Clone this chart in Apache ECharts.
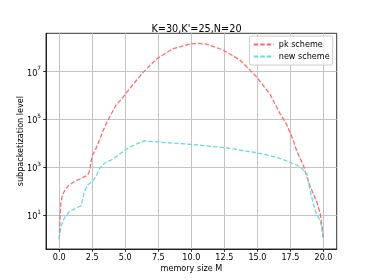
<!DOCTYPE html>
<html>
<head>
<meta charset="utf-8">
<script src="https://cdn.jsdelivr.net/npm/echarts@6/dist/echarts.min.js"></script>
<style>html,body{margin:0;padding:0;background:#fff}#c{width:374px;height:280px}</style>
</head>
<body>
<div id="c"></div>
<script>
const titleText = "K=30,K'=25,N=20";
const xTicks = [0, 2.5, 5, 7.5, 10, 12.5, 15, 17.5, 20];
const yTicks = [10, 1e3, 1e5, 1e7];
const yTickExponents = ['1', '3', '5', '7'];

const pkM = [0, 0.05, 0.13, 0.25, 0.5, 0.76, 1.14, 1.52, 2.03, 2.23, 2.33, 2.4, 2.53, 2.79, 3.04, 3.3, 3.67, 3.92, 4.3, 4.56, 4.94, 5.57, 6.33, 7.34, 8.6, 9.87, 10.5, 11.14, 12.4, 13.67, 14.94, 15.95, 16.7, 17.2, 17.7, 18.0, 18.5, 18.74, 19.0, 19.5, 19.75, 19.9, 20];
const pkValues = [1, 6.3, 32, 71, 132, 182, 251, 316, 437, 562, 912, 1700, 3240, 6300, 13500, 31600, 89000, 158000, 398000, 562000, 1.0e6, 2.8e6, 8.9e6, 3.2e7, 8.9e7, 1.38e8, 1.48e8, 1.38e8, 7.9e7, 3.0e7, 5.9e6, 1.12e6, 178000, 63000, 13800, 4470, 1120, 398, 158, 35, 12, 3.2, 1];

const newM = [0, 0.13, 0.38, 0.76, 1.14, 1.65, 1.77, 1.9, 2.15, 2.48, 2.79, 3.04, 3.42, 3.92, 4.3, 4.81, 5.32, 6.08, 6.46, 7.85, 10.38, 12.9, 14.94, 16.46, 17.47, 18.23, 18.74, 19.0, 19.24, 19.37, 19.5, 19.75, 20];
const newValues = [1, 3.4, 7.6, 14, 18, 25, 44, 95, 182, 251, 407, 890, 1480, 2000, 2750, 4470, 6900, 10700, 12600, 11000, 8700, 6200, 4070, 2630, 1620, 1070, 525, 100, 28, 16.6, 10, 6.3, 1];

const seriesNames = ['pk scheme', 'new scheme'];

const font = 'DejaVu Sans';
const chart = echarts.init(document.getElementById('c'), null, {renderer: 'canvas'});
chart.setOption({
  animation: false,
  backgroundColor: '#fff',
  title: {
    text: titleText, left: 191.5, top: 19, textAlign: 'center',
    textStyle: {fontFamily: font, fontSize: 9.7, fontWeight: 'normal', color: '#000'}
  },
  legend: {
    data: seriesNames, orient: 'vertical', right: 41.3, top: 36,
    padding: [4, 3, 4, 3.3], itemGap: 3, itemWidth: 20, itemHeight: 9,
    itemStyle: {opacity: 0},
    backgroundColor: 'rgba(255,255,255,0.8)', borderColor: '#cccccc', borderWidth: 1, borderRadius: 2,
    textStyle: {fontFamily: font, fontSize: 8.1, color: '#000', lineHeight: 9}
  },
  grid: {left: 46, right: 37.3, top: 33.3, bottom: 31, show: true, borderColor: '#000', borderWidth: 0.8, backgroundColor: 'transparent'},
  xAxis: {
    type: 'value', min: -1, max: 21,
    name: 'memory size M', nameLocation: 'middle', nameGap: 15.5, nameMoveOverlap: false,
    nameTextStyle: {fontFamily: font, fontSize: 8.1, color: '#000'},
    axisLine: {show: true, onZero: false, lineStyle: {color: '#000', width: 0.8}},
    axisTick: {show: true, length: 2.8, customValues: xTicks, lineStyle: {color: '#000', width: 0.8}},
    axisLabel: {customValues: xTicks, margin: 5, fontFamily: font, fontSize: 8.1, color: '#000', formatter: v => v.toFixed(1)},
    splitLine: {show: true, lineStyle: {color: '#c4c4c4', width: 1}}
  },
  yAxis: {
    type: 'log', logBase: 10, min: 0.39, max: 3.9e8,
    name: 'subpacketization level', nameLocation: 'middle', nameGap: 21, nameMoveOverlap: false,
    nameTextStyle: {fontFamily: font, fontSize: 8.1, color: '#000'},
    axisLine: {show: true, onZero: false, lineStyle: {color: '#000', width: 0.8}},
    axisTick: {show: true, length: 2.8, customValues: yTicks, lineStyle: {color: '#000', width: 0.8}},
    axisLabel: {customValues: yTicks, margin: 5, fontFamily: font, fontSize: 8.1, color: '#000',
      formatter: v => { const i = yTicks.findIndex(t => Math.abs(Math.log10(t) - Math.log10(v)) < 1e-6); return i >= 0 ? '{b|10}{s|' + yTickExponents[i] + '}' : ''; },
      rich: {
        b: {fontFamily: font, fontSize: 8.1, color: '#000', lineHeight: 12, verticalAlign: 'bottom'},
        s: {fontFamily: font, fontSize: 5.8, color: '#000', lineHeight: 7, verticalAlign: 'top'}
      }},
    splitLine: {show: true, lineStyle: {color: '#c4c4c4', width: 1}}
  },
  series: [
    {name: seriesNames[0], type: 'line', symbol: 'none', showSymbol: false,
     data: pkM.map((m, i) => [m, pkValues[i]]), color: '#ff6666',
     lineStyle: {color: '#ff6666', width: 1.25, type: [4.5, 2]}},
    {name: seriesNames[1], type: 'line', symbol: 'none', showSymbol: false,
     data: newM.map((m, i) => [m, newValues[i]]), color: '#66d9d9',
     lineStyle: {color: '#66d9d9', width: 1.25, type: [4.5, 2]}}
  ]
});
</script>
</body>
</html>
